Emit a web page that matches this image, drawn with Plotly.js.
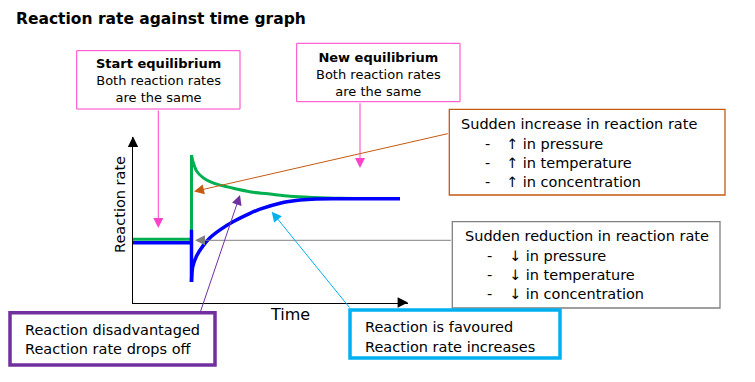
<!DOCTYPE html>
<html>
<head>
<meta charset="utf-8">
<script src="https://cdn.plot.ly/plotly-3.0.1.min.js"></script>
<style>html,body{margin:0;padding:0;background:#fff;}#chart{width:755px;height:382px;}</style>
</head>
<body>
<div id="chart"></div>
<script>
// ---- Data (time and reaction rate, arbitrary units) ----
const greenStepTime = [0, 2.127, 2.127];
const greenStepRate = [3.82, 3.82, 8.91];
const greenDecayTime = [2.127, 2.193, 2.316, 2.556, 2.8, 3.164, 3.771, 4.375, 4.982, 5.709, 6.545, 7.527, 9.6];
const greenDecayRate = [8.91, 8.44, 7.93, 7.53, 7.30, 7.09, 6.86, 6.66, 6.55, 6.42, 6.35, 6.30, 6.29];
const blueStepTime = [0, 2.127, 2.127, 2.127];
const blueStepRate = [3.61, 3.61, 4.39, 1.24];
const blueRiseTime = [2.127, 2.171, 2.316, 2.545, 2.8, 3.164, 3.636, 4.255, 4.618, 5.345, 6.073, 6.655, 7.527, 9.709];
const blueRiseRate = [1.24, 2.15, 2.82, 3.42, 3.91, 4.39, 4.88, 5.39, 5.64, 6.00, 6.19, 6.26, 6.27, 6.27];

const chartTitle = "Reaction rate against time graph";
const xLabel = "Time";
const yLabel = "Reaction rate";
const startEqText = ["<b>Start equilibrium</b>", "Both reaction rates", "are the same"];
const newEqText = ["<b>New equilibrium</b>", "Both reaction rates", "are the same"];
const increaseHead = "Sudden increase in reaction rate";
const increaseItems = ["\u2191 in pressure", "\u2191 in temperature", "\u2191 in concentration"];
const reductionHead = "Sudden reduction in reaction rate";
const reductionItems = ["\u2193 in pressure", "\u2193 in temperature", "\u2193 in concentration"];
const disadvText = ["Reaction disadvantaged", "Reaction rate drops off"];
const favText = ["Reaction is favoured", "Reaction rate increases"];

// ---- Layout helpers (figure pixel -> paper) ----
const W = 755, H = 382;
const px = v => v / W;
const py = v => 1 - v / H;
const FONT = "DejaVu Sans, Verdana, sans-serif";

const GREEN = "#00b050", BLUE = "#0000ff", PINK = "#ff40c8", ORANGE = "#c55a11",
      GREY = "#808080", PURPLE = "#7030a0", CYAN = "#00b0f0";

const traces = [
  {x: greenStepTime, y: greenStepRate, mode: "lines", line: {color: GREEN, width: 3}, hoverinfo: "skip"},
  {x: greenDecayTime, y: greenDecayRate, mode: "lines", line: {color: GREEN, width: 3, shape: "spline", smoothing: 0.8}, hoverinfo: "skip"},
  {x: blueStepTime, y: blueStepRate, mode: "lines", line: {color: BLUE, width: 3.5}, hoverinfo: "skip"},
  {x: blueRiseTime, y: blueRiseRate, mode: "lines", line: {color: BLUE, width: 3.5, shape: "spline", smoothing: 0.8}, hoverinfo: "skip"}
];

function rect(x0, y0, x1, y1, color, width) {
  return {type: "rect", xref: "paper", yref: "paper", x0: px(x0), x1: px(x1), y0: py(y1), y1: py(y0),
          line: {color: color, width: width}, fillcolor: "#ffffff", layer: "above"};
}
function txt(text, x, y, size, xanchor, extra) {
  return Object.assign({text: text, xref: "paper", yref: "paper", x: px(x), y: py(y), showarrow: false,
          xanchor: xanchor || "left", yanchor: "middle", font: {family: FONT, size: size, color: "#000"}}, extra || {});
}
function arrow(tipX, tipY, tailX, tailY, color, width, size) {
  return {text: "", xref: "paper", yref: "paper", x: px(tipX), y: py(tipY), ax: tailX - tipX, ay: tailY - tipY,
          showarrow: true, arrowhead: 2, arrowsize: size, arrowwidth: width, arrowcolor: color, standoff: 0, startstandoff: 0};
}

const shapes = [
  rect(76.7, 50.7, 240, 109, PINK, 1),
  rect(296.7, 43.3, 460, 101.7, PINK, 1),
  rect(449.3, 109.3, 725, 195, ORANGE, 1.3),
  rect(452.3, 221.7, 720, 308, GREY, 1.3),
  rect(10, 312.7, 215, 365, PURPLE, 3.5),
  rect(350, 310, 560, 358, CYAN, 3.5)
];

const annotations = [
  txt("<b>" + chartTitle + "</b>", 14, 19, 15.5),
  txt(xLabel, 290, 314, 16, "center"),
  txt(yLabel, 120, 205, 14.5, "center", {textangle: -90}),
  // axis arrowheads
  arrow(408, 302.5, 398, 302.5, "#000", 1.3, 1.6),
  arrow(133, 136.5, 133, 146.5, "#000", 1.3, 1.6),
  // pointer arrows
  arrow(158.3, 228, 158.3, 109, PINK, 1, 2),
  arrow(360, 168, 360, 101.7, PINK, 1, 2),
  arrow(194, 191.5, 449.3, 133.3, ORANGE, 1, 2),
  arrow(195, 240.3, 452.3, 240.3, GREY, 1, 2),
  arrow(240, 195, 200, 313, PURPLE, 1, 2),
  arrow(271.7, 211.7, 350.7, 309, CYAN, 1, 2),
  // box texts
  txt(startEqText.join("<br>"), 158.3, 81, 13, "center"),
  txt(newEqText.join("<br>"), 378.3, 74, 13, "center"),
  txt(increaseHead, 459.3, 124, 14.5),
  txt(reductionHead, 462.7, 236, 14.5),
  txt(disadvText[0], 23, 330, 14.5),
  txt(disadvText[1], 23, 348.5, 14.5),
  txt(favText[0], 363, 327, 14.5),
  txt(favText[1], 363, 346.5, 14.5)
];
const incY = [144, 163, 182];
increaseItems.forEach((s, i) => {
  annotations.push(txt("-", 487, incY[i], 14.5, "center"));
  annotations.push(txt(s, 504, incY[i], 14.5));
});
const redY = [256, 275, 294];
reductionItems.forEach((s, i) => {
  annotations.push(txt("-", 489.5, redY[i], 14.5, "center"));
  annotations.push(txt(s, 507, redY[i], 14.5));
});

const layout = {
  width: W, height: H,
  margin: {l: 0, r: 0, t: 0, b: 0},
  paper_bgcolor: "#ffffff", plot_bgcolor: "rgba(0,0,0,0)",
  showlegend: false,
  font: {family: FONT, color: "#000"},
  xaxis: {domain: [px(133), px(408)], range: [0, 10], showline: true, linecolor: "#000", linewidth: 1.3,
          showgrid: false, zeroline: false, showticklabels: false, ticks: "", fixedrange: true},
  yaxis: {domain: [py(302.5), py(137)], range: [0, 10], showline: true, linecolor: "#000", linewidth: 1.3,
          showgrid: false, zeroline: false, showticklabels: false, ticks: "", fixedrange: true},
  shapes: shapes,
  annotations: annotations
};

Plotly.newPlot("chart", traces, layout, {displayModeBar: false, staticPlot: true});
</script>
</body>
</html>
